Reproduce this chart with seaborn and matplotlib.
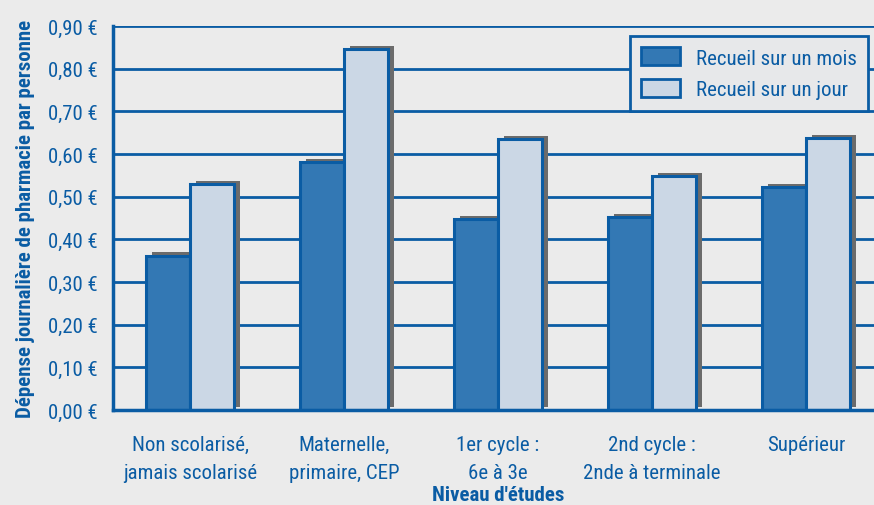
import matplotlib
matplotlib.use("Agg")
import matplotlib.pyplot as plt
import matplotlib.patheffects as pe
from matplotlib import font_manager as fm
import seaborn as sns
import pandas as pd

categories = ["Non scolarisé,\njamais scolarisé", "Maternelle,\nprimaire, CEP",
              "1er cycle :\n6e à 3e", "2nd cycle :\n2nde à terminale", "Supérieur"]
series = ["Recueil sur un mois", "Recueil sur un jour"]
mois = [0.362, 0.582, 0.448, 0.452, 0.522]
jour = [0.530, 0.845, 0.634, 0.548, 0.638]
yticks = [0.0, 0.1, 0.2, 0.3, 0.4, 0.5, 0.6, 0.7, 0.8, 0.9]
ytick_labels = ["0,00 €", "0,10 €", "0,20 €", "0,30 €", "0,40 €", "0,50 €",
                "0,60 €", "0,70 €", "0,80 €", "0,90 €"]

df = pd.DataFrame({
    "cat": categories * 2,
    "serie": [series[0]] * 5 + [series[1]] * 5,
    "val": mois + jour,
})

BG = "#ebebeb"
BLUE = "#0a5ca4"
C_MOIS = "#3378b4"
C_JOUR = "#cbd7e5"

available = {e.name for e in fm.fontManager.ttflist}
candidates = ["Liberation Sans Narrow", "Arial Narrow", "Nimbus Sans Narrow",
              "Roboto Condensed", "Open Sans Condensed", "Archivo Narrow",
              "Barlow Semi Condensed", "Asap Condensed"]
chosen = next((c for c in candidates if c in available), "Liberation Sans")

sns.set_theme(style="white")
plt.rcParams["font.family"] = [chosen, "DejaVu Sans"]

fig = plt.figure(figsize=(8.74, 5.06), dpi=100, facecolor=BG)
ax = fig.add_axes([113 / 874, 1 - 411 / 506, 770 / 874, 384 / 506])
ax.set_facecolor(BG)

sns.barplot(data=df, x="cat", y="val", hue="serie", hue_order=series,
            order=categories, palette=[C_MOIS, C_JOUR], width=0.57, gap=0,
            saturation=1, edgecolor=BLUE, linewidth=2.2, ax=ax, zorder=3)

for p in ax.patches:
    p.set_path_effects([pe.SimplePatchShadow(offset=(4.3, 2.2), shadow_rgbFace="#6b6b6b",
                                             alpha=1.0), pe.Normal()])

ax.set_xlim(-0.5, 4.5)
ax.set_ylim(0, 0.9)
ax.set_yticks(yticks)
ax.set_yticklabels(ytick_labels)
ax.yaxis.grid(True, color=BLUE, linewidth=2)
ax.set_axisbelow(True)

FS = 15
ax.set_xticks([i - 0.5 for i in range(6)], minor=True)
ax.tick_params(axis="x", which="major", length=0, pad=18, labelsize=FS, labelcolor=BLUE)
ax.tick_params(axis="x", which="minor", length=7, width=2, color=BLUE, direction="out")
ax.tick_params(axis="y", length=7, width=2, color=BLUE, labelsize=FS, labelcolor=BLUE, pad=4)
for t in ax.get_xticklabels():
    t.set_linespacing(1.6)

for s in ["top", "right"]:
    ax.spines[s].set_visible(False)
for s in ["left", "bottom"]:
    ax.spines[s].set_color(BLUE)
    ax.spines[s].set_linewidth(2.5)
    ax.spines[s].set_zorder(4)

ax.set_xlabel("Niveau d'études", fontsize=FS, fontweight="bold", color=BLUE, labelpad=2.5)
ax.set_ylabel("Dépense journalière de pharmacie par personne", fontsize=FS,
              fontweight="bold", color=BLUE, labelpad=9)

leg = ax.legend(loc="upper left", bbox_to_anchor=(630 / 874, 1 - 37 / 506),
                bbox_transform=fig.transFigure, frameon=True, fontsize=FS,
                handlelength=1.85, handleheight=0.95, borderpad=0.55, labelspacing=0.55,
                handletextpad=0.75, borderaxespad=0, fancybox=False)
leg.get_frame().set_edgecolor(BLUE)
leg.get_frame().set_linewidth(2)
leg.get_frame().set_facecolor("#e7e8ea")
leg.get_frame().set_alpha(1)
for t in leg.get_texts():
    t.set_color(BLUE)
for h in leg.legend_handles:
    h.set_path_effects([])
    h.set_edgecolor(BLUE)
    h.set_linewidth(2)

fig.savefig("out.png", dpi=100, facecolor=BG)
